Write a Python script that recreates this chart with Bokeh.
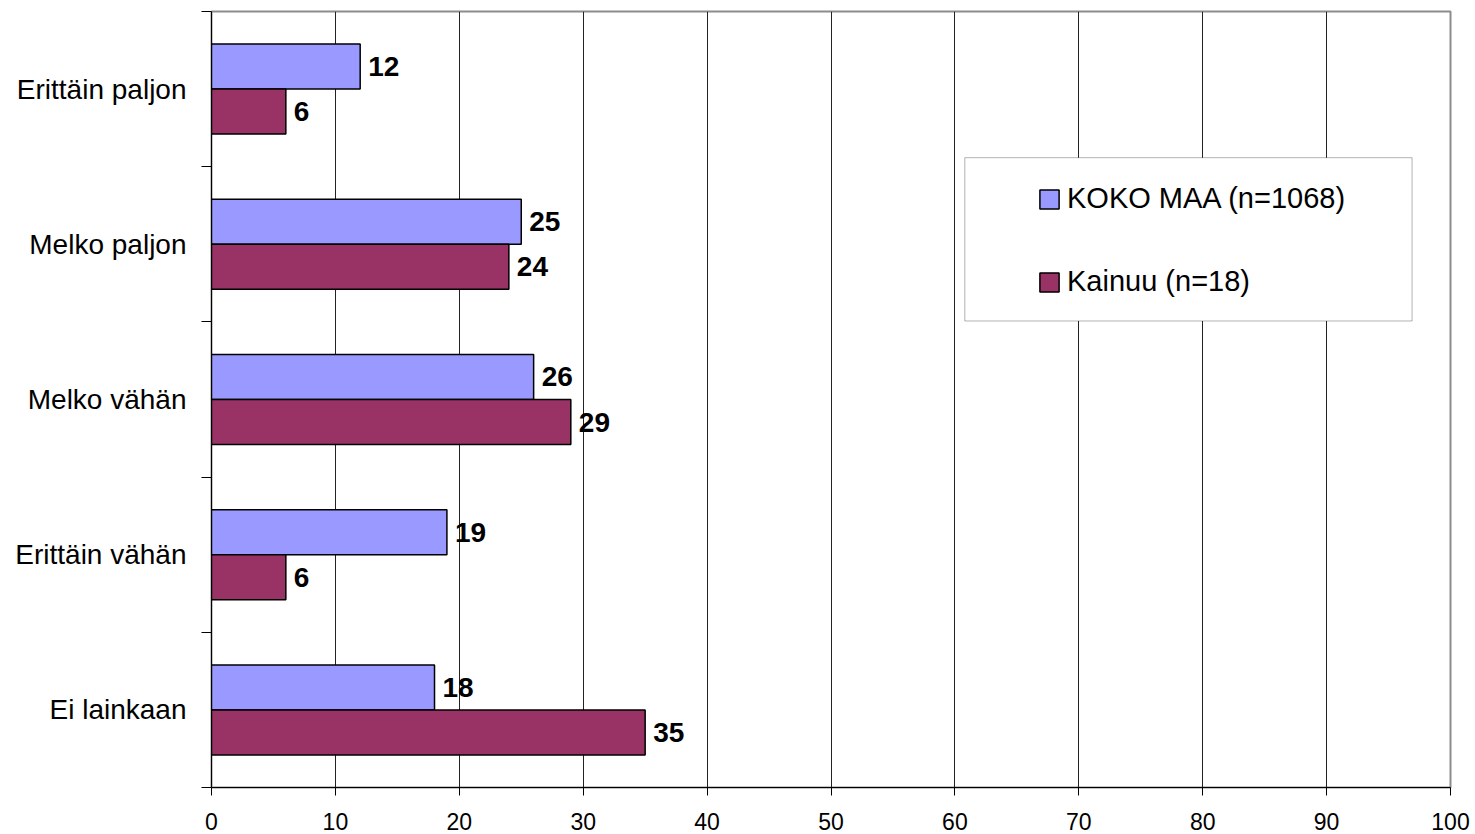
from bokeh.plotting import figure
from bokeh.models import (Range1d, FixedTicker, CustomJSTickFormatter, Legend, LegendItem,
                          BoxAnnotation, ColumnDataSource)
from bokeh.core.properties import value
from bokeh.embed import file_html
from bokeh.resources import INLINE

categories = ["Erittäin paljon", "Melko paljon", "Melko vähän", "Erittäin vähän", "Ei lainkaan"]
koko_maa = [12, 25, 26, 19, 18]
kainuu = [6, 24, 29, 6, 35]
series_names = ["KOKO MAA (n=1068)", "Kainuu (n=18)"]
x_ticks = list(range(0, 101, 10))

FONT = "Liberation Sans"
n = len(categories)
centers = [n - 0.5 - i for i in range(n)]
bar_h = 0.29
off = 0.145

p = figure(width=1475, height=834, output_backend="svg", toolbar_location=None,
           x_range=Range1d(0, 100), y_range=Range1d(0, n),
           min_border_left=211, min_border_right=25, min_border_top=11, min_border_bottom=47)

p.background_fill_color = "white"
p.outline_line_color = "#8c8c8c"
p.outline_line_width = 2

src_a = ColumnDataSource(dict(y=[c + off for c in centers], v=koko_maa, t=[str(v) for v in koko_maa]))
src_b = ColumnDataSource(dict(y=[c - off for c in centers], v=kainuu, t=[str(v) for v in kainuu]))

r_a = p.hbar(y="y", right="v", left=0, height=bar_h, source=src_a,
             fill_color="#9999FF", line_color="black", line_width=1.5)
r_b = p.hbar(y="y", right="v", left=0, height=bar_h, source=src_b,
             fill_color="#993366", line_color="black", line_width=1.5)

for src in (src_a, src_b):
    p.text(x="v", y="y", text="t", source=src, x_offset=8, text_baseline="middle",
           text_align="left", text_font=value(FONT), text_font_style="bold",
           text_font_size="28px", text_color="black")

# x axis
p.xaxis.ticker = FixedTicker(ticks=x_ticks)
p.xaxis.axis_line_color = "black"
p.xaxis.major_tick_line_color = "black"
p.xaxis.major_tick_out = 8
p.xaxis.major_tick_in = 0
p.xaxis.minor_tick_line_color = None
p.xaxis.major_label_text_font = FONT
p.xaxis.major_label_text_font_size = "23px"
p.xaxis.major_label_text_color = "black"
p.xaxis.major_label_standoff = 17

# y axis
names_bottom_up = list(reversed(categories))
p.yaxis.ticker = FixedTicker(ticks=[i + 0.5 for i in range(n)], minor_ticks=list(range(n + 1)))
p.yaxis.formatter = CustomJSTickFormatter(args=dict(names=names_bottom_up),
                                          code="return names[Math.floor(tick)] || '';")
p.yaxis.axis_line_color = "black"
p.yaxis.major_tick_out = 0
p.yaxis.major_tick_in = 0
p.yaxis.minor_tick_line_color = "black"
p.yaxis.minor_tick_out = 10
p.yaxis.minor_tick_in = 0
p.yaxis.major_label_text_font = FONT
p.yaxis.major_label_text_font_size = "28px"
p.yaxis.major_label_text_color = "black"
p.yaxis.major_label_standoff = 15

p.xgrid.grid_line_color = "#222222"
p.xgrid.grid_line_width = 1
p.ygrid.grid_line_color = None

box = BoxAnnotation(left=60.8, right=96.9, bottom=3.006, top=4.058,
                    fill_color="white", fill_alpha=1.0, line_color="black", line_width=1)
p.add_layout(box)

legend = Legend(items=[LegendItem(label=series_names[0], renderers=[r_a]),
                       LegendItem(label=series_names[1], renderers=[r_b])],
                location=(826, 489), orientation="vertical",
                padding=0, margin=0, spacing=50,
                glyph_width=24, glyph_height=24, label_height=32, label_standoff=6,
                label_text_font=FONT, label_text_font_size="29px", label_text_color="black",
                border_line_color=None, background_fill_alpha=0)
p.add_layout(legend)

open("out.html", "w").write(file_html(p, INLINE))
